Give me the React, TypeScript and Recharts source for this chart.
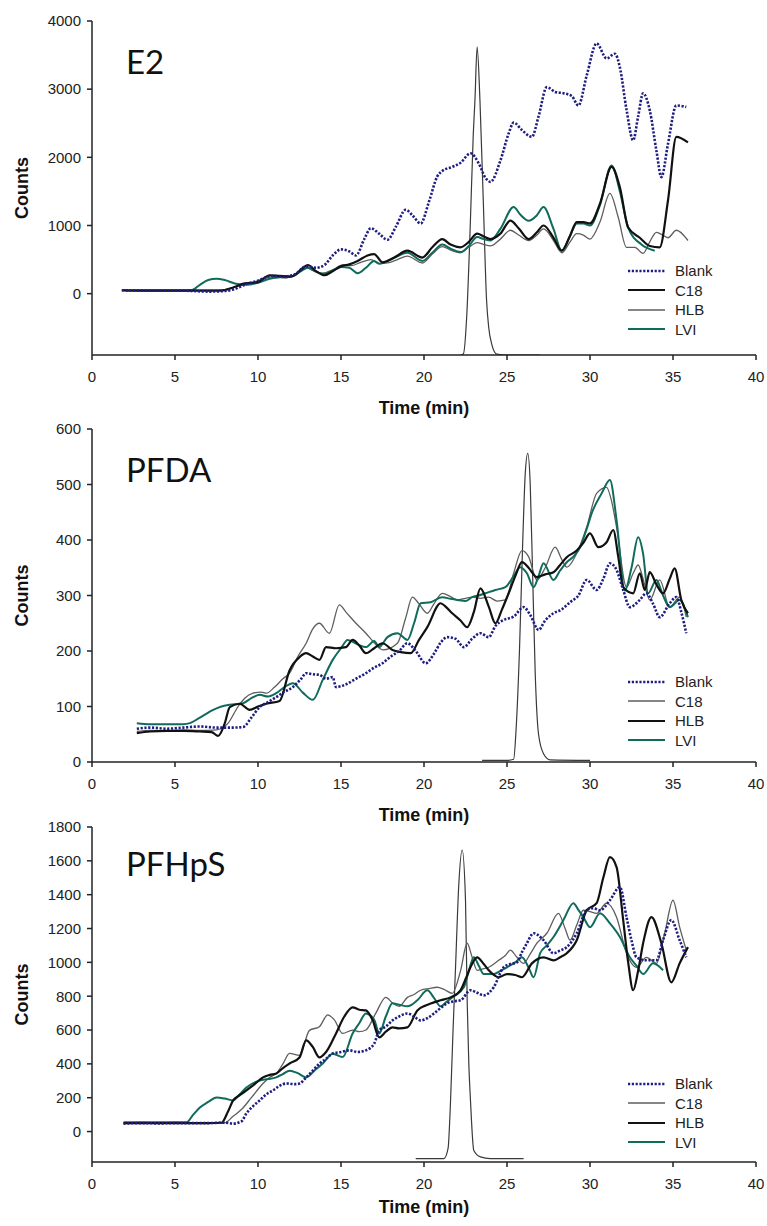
import { LineChart, Line, XAxis, YAxis, Legend } from 'recharts';

type Pt = [number, number];

const FONT = '"Liberation Sans", Arial, sans-serif';

const timeTicks = [0, 5, 10, 15, 20, 25, 30, 35, 40];
const e2Ticks = [0, 1000, 2000, 3000, 4000];
const pfdaTicks = [0, 100, 200, 300, 400, 500, 600];
const pfhpsTicks = [0, 200, 400, 600, 800, 1000, 1200, 1400, 1600, 1800];

// ---- E2 ----
const e2Blank: Pt[] = [
  [1.8, 50], [3, 45], [4, 45], [5, 45], [6, 40], [7, 30], [7.8, 35], [8.5, 60], [9.3, 140], [10, 190],
  [10.8, 260], [11.5, 250], [12.2, 280], [12.9, 400], [13.5, 380], [14, 420], [14.5, 560], [15, 650],
  [15.5, 620], [15.9, 560], [16.4, 800], [16.8, 960], [17.3, 880], [17.8, 790], [18.3, 980], [18.9, 1230],
  [19.3, 1150], [19.8, 1030], [20.3, 1350], [20.8, 1720], [21.1, 1800], [21.7, 1860], [22.2, 1920],
  [22.8, 2060], [23.3, 1910], [23.7, 1700], [24.0, 1640], [24.6, 1950], [25.1, 2350], [25.4, 2510],
  [25.9, 2400], [26.5, 2300], [26.9, 2600], [27.4, 3030], [27.9, 2960], [28.4, 2940], [28.9, 2900],
  [29.3, 2760], [29.8, 3200], [30.4, 3670], [31.0, 3450], [31.5, 3520], [31.8, 3320], [32.2, 2700],
  [32.6, 2250], [32.9, 2600], [33.2, 2940], [33.6, 2690], [34.0, 2100], [34.3, 1710], [34.7, 2200],
  [35.2, 2760], [35.8, 2740],
];
const e2C18: Pt[] = [
  [1.8, 50], [3, 45], [5, 45], [7, 45], [7.8, 45], [8.5, 90], [9.2, 150], [10, 170], [10.7, 270],
  [11.3, 260], [12, 250], [12.6, 350], [13, 420], [13.5, 330], [14, 270], [14.5, 330], [15, 400],
  [15.5, 430], [16, 480], [16.6, 560], [17, 580], [17.5, 460], [18.2, 530], [19, 630], [19.9, 530],
  [20.5, 680], [21.1, 800], [21.6, 720], [22.2, 680], [22.7, 760], [23.2, 880], [23.6, 840], [24, 800],
  [24.6, 880], [25.2, 1070], [25.7, 960], [26.3, 800], [26.8, 900], [27.2, 1000], [27.8, 820],
  [28.3, 630], [28.8, 850], [29.2, 1050], [29.6, 1050], [30, 1030], [30.6, 1320], [31.3, 1860],
  [31.8, 1560], [32.3, 970], [33, 820], [33.6, 700], [34.2, 680], [34.7, 1370], [35.2, 2300], [35.9, 2220],
];
const e2HLB: Pt[] = [
  [1.8, 50], [3, 50], [5, 50], [7, 50], [8, 60], [8.8, 110], [9.6, 150], [10.3, 220], [11, 250],
  [11.7, 230], [12.3, 300], [12.8, 400], [13.3, 340], [13.9, 300], [14.5, 350], [15.1, 420], [15.6, 410],
  [16.2, 460], [16.8, 500], [17.3, 440], [17.8, 450], [18.4, 500], [19, 550], [19.9, 450], [20.5, 580],
  [21.1, 690], [21.6, 640], [22.2, 600], [22.7, 680], [23.2, 750], [23.6, 720], [24, 700], [24.6, 800],
  [25.2, 930], [25.7, 860], [26.3, 780], [26.8, 860], [27.2, 950], [27.8, 780], [28.3, 600], [28.8, 760],
  [29.2, 880], [29.6, 860], [30, 800], [30.6, 1050], [31.2, 1470], [31.7, 1120], [32.2, 680], [32.7, 680],
  [33.2, 590], [33.6, 760], [34, 900], [34.3, 870], [34.7, 820], [35.2, 930], [35.9, 780],
];
const e2LVI: Pt[] = [
  [1.8, 50], [3, 45], [5, 45], [6, 50], [6.5, 130], [7, 200], [7.5, 220], [8, 200], [8.6, 150],
  [9.3, 130], [10, 160], [10.7, 220], [11.3, 240], [12, 250], [12.6, 330], [13, 380], [13.5, 320],
  [14, 290], [14.5, 340], [15, 390], [15.5, 380], [16, 300], [16.5, 380], [17, 480], [17.3, 440],
  [18, 500], [19, 600], [19.9, 480], [20.5, 600], [21.1, 720], [21.6, 660], [22.2, 610], [22.7, 700],
  [23.2, 830], [23.6, 800], [24, 780], [24.6, 950], [25.4, 1270], [25.8, 1160], [26.3, 1070],
  [26.8, 1150], [27.2, 1270], [27.8, 950], [28.3, 630], [28.8, 850], [29.2, 1030], [29.6, 1030],
  [30, 1000], [30.6, 1300], [31.3, 1880], [31.8, 1500], [32.3, 970], [33.1, 720], [33.9, 630],
];
const e2Std: Pt[] = [
  [22.2, -900], [22.37, -885], [22.57, -350], [22.77, 880], [22.97, 2350], [23.07, 2840], [23.2, 3620],
  [23.37, 2840], [23.57, 1370], [23.77, -100], [23.9, -500], [24.08, -740], [24.38, -885], [25, -900],
  [27, -900],
];

// ---- PFDA ----
const pfdaBlank: Pt[] = [
  [2.7, 60], [3.5, 62], [4.5, 60], [5.5, 62], [6.5, 64], [7.5, 62], [8.5, 62], [9.1, 63], [9.6, 80],
  [10.1, 99], [10.6, 108], [11.1, 117], [11.5, 125], [12.1, 135], [12.6, 150], [12.9, 160], [13.3, 158],
  [13.7, 157], [14.1, 150], [14.5, 153], [14.7, 135], [15.3, 140], [15.9, 150], [16.5, 160], [17, 170],
  [17.5, 178], [18, 190], [18.5, 200], [19, 214], [19.5, 200], [20.1, 178], [20.6, 195], [21, 215],
  [21.4, 225], [21.9, 222], [22.4, 207], [22.9, 222], [23.4, 232], [23.9, 225], [24.3, 245], [24.8, 256],
  [25.4, 262], [26, 279], [26.4, 265], [26.9, 238], [27.3, 255], [27.8, 268], [28.3, 275], [28.8, 288],
  [29.3, 300], [29.8, 328], [30.4, 310], [30.8, 330], [31.2, 358], [31.6, 346], [32, 310], [32.4, 279],
  [33, 292], [33.4, 304], [33.8, 285], [34.2, 261], [34.8, 286], [35.2, 297], [35.5, 270], [35.8, 232],
];
const pfdaC18: Pt[] = [
  [2.7, 55], [3.5, 57], [4.5, 56], [5.5, 58], [6.5, 57], [7.5, 58], [8.2, 70], [8.8, 100], [9.2, 115],
  [9.7, 124], [10.2, 126], [10.5, 124], [11, 135], [11.5, 150], [11.9, 160], [12.4, 190], [12.9, 214],
  [13.3, 240], [13.7, 250], [14.3, 232], [14.9, 283], [15.3, 270], [15.9, 250], [16.5, 232], [17, 215],
  [17.5, 202], [18.4, 214], [18.9, 260], [19.3, 297], [19.7, 285], [20.2, 268], [20.6, 285], [21.1, 304],
  [21.6, 298], [22, 292], [22.5, 295], [22.9, 297], [23.4, 295], [23.9, 297], [24.4, 290], [24.9, 292],
  [25.4, 340], [25.9, 381], [26.3, 370], [26.8, 328], [27.3, 350], [27.9, 387], [28.3, 365], [28.6, 351],
  [29.2, 376], [29.8, 423], [30.4, 484], [31, 495], [31.3, 470], [31.6, 423], [32.2, 315], [32.6, 340],
  [32.9, 355], [33.2, 330], [33.6, 292], [34.2, 328], [34.8, 279], [35.4, 297], [35.8, 261],
];
const pfdaHLB: Pt[] = [
  [2.7, 52], [3.5, 55], [4.5, 56], [5.5, 56], [6.5, 55], [7.2, 54], [7.6, 47], [8, 70], [8.3, 99],
  [8.9, 105], [9.5, 94], [10, 100], [10.5, 105], [11.3, 110], [11.9, 165], [12.5, 189], [12.9, 196],
  [13.3, 190], [13.7, 184], [14.1, 207], [14.7, 205], [15.3, 207], [15.7, 220], [16.1, 210], [16.5, 196],
  [17, 205], [17.5, 214], [18.1, 202], [18.6, 198], [19.2, 196], [19.7, 220], [20.2, 243], [21, 286],
  [21.3, 280], [21.7, 268], [22.2, 255], [22.6, 243], [23, 270], [23.4, 313], [23.9, 280], [24.3, 250],
  [24.7, 275], [25.1, 304], [25.5, 335], [25.9, 360], [26.3, 350], [26.8, 333], [27.3, 338], [27.8, 342],
  [28.2, 355], [28.6, 369], [29.2, 381], [29.6, 395], [30, 412], [30.5, 387], [31, 396], [31.4, 418],
  [31.7, 370], [32, 315], [32.6, 304], [33, 340], [33.3, 310], [33.6, 342], [34, 320], [34.4, 304],
  [34.8, 330], [35.1, 349], [35.5, 292], [35.9, 268],
];
const pfdaLVI: Pt[] = [
  [2.7, 70], [3.5, 68], [4.5, 68], [5.5, 68], [5.9, 70], [6.5, 80], [7.3, 94], [7.8, 100], [8.3, 103],
  [9.1, 106], [9.6, 115], [10.1, 121], [10.6, 118], [11.1, 124], [11.6, 135], [12.1, 142], [12.7, 125],
  [13.3, 112], [13.9, 148], [14.5, 184], [15, 205], [15.4, 220], [16, 212], [16.5, 207], [17, 218],
  [17.3, 207], [17.8, 225], [18.4, 232], [19, 220], [19.4, 250], [19.8, 286], [20.4, 288], [21.1, 297],
  [21.6, 294], [22, 292], [22.5, 290], [22.9, 297], [23.3, 300], [23.7, 304], [24.3, 310], [24.9, 315],
  [25.4, 335], [25.8, 351], [26.2, 340], [26.6, 315], [26.9, 335], [27.2, 358], [27.8, 328], [28.2, 345],
  [28.6, 360], [29, 370], [29.4, 387], [29.8, 420], [30.1, 448], [30.7, 484], [31.2, 508], [31.6, 436],
  [32.1, 309], [32.5, 350], [32.9, 405], [33.2, 375], [33.5, 304], [34, 328], [34.4, 300], [34.8, 279],
  [35.4, 292], [35.9, 261],
];
const pfdaStd: Pt[] = [
  [23.5, 3], [25, 3], [25.4, 5], [25.55, 60], [25.75, 200], [25.95, 400], [26.1, 520], [26.25, 556],
  [26.4, 500], [26.55, 330], [26.7, 160], [26.9, 50], [27.2, 15], [27.6, 4], [30, 3],
];

// ---- PFHpS ----
const pfhpsBlank: Pt[] = [
  [1.9, 47], [3, 50], [4, 48], [5, 50], [6, 50], [7, 50], [8, 53], [8.5, 47], [9, 60], [9.3, 107],
  [9.7, 150], [10.1, 184], [10.5, 220], [10.9, 243], [11.3, 270], [11.7, 284], [12.2, 280], [12.5, 284],
  [12.9, 320], [13.3, 360], [13.7, 402], [14.1, 430], [14.5, 462], [15, 470], [15.5, 480], [16, 470],
  [16.5, 480], [17, 520], [17.3, 598], [17.7, 620], [18.1, 657], [18.5, 680], [19, 698], [19.4, 680],
  [19.8, 657], [20.2, 670], [20.6, 698], [21, 730], [21.4, 758], [21.8, 770], [22.2, 776], [22.8, 835],
  [23.2, 820], [23.6, 805], [24.2, 853], [24.8, 971], [25.2, 990], [25.6, 1000], [25.9, 1060],
  [26.2, 1113], [26.6, 1172], [27.2, 1131], [27.8, 1054], [28.2, 1070], [28.6, 1090], [29.2, 1172],
  [29.8, 1308], [30.2, 1320], [30.6, 1308], [31.2, 1367], [31.8, 1445], [32.2, 1267], [32.5, 1130],
  [32.8, 1030], [33.4, 1012], [34, 1012], [34.4, 1131], [34.9, 1250], [35.4, 1131], [35.8, 1030],
];
const pfhpsC18: Pt[] = [
  [1.9, 50], [3, 50], [4, 50], [5, 50], [6, 50], [7, 50], [8, 52], [8.5, 90], [9, 130], [9.6, 200],
  [10.3, 284], [10.7, 320], [11.1, 343], [11.5, 400], [11.9, 462], [12.5, 450], [13.1, 598], [13.7, 620],
  [14.2, 690], [14.6, 660], [15.1, 580], [15.7, 600], [16.1, 590], [16.5, 600], [17.1, 700], [17.7, 793],
  [18.1, 760], [18.5, 740], [19, 793], [19.4, 810], [19.8, 835], [20.3, 845], [20.8, 853], [21.2, 840],
  [21.7, 817], [22.2, 950], [22.6, 1113], [22.9, 1030], [23.2, 953], [23.5, 960], [23.9, 971],
  [24.5, 1012], [24.9, 1040], [25.2, 1072], [25.6, 1030], [26, 994], [26.4, 1050], [26.8, 1113],
  [27.4, 1172], [28.1, 1290], [28.5, 1200], [28.8, 1131], [29.2, 1220], [29.6, 1308], [30, 1300],
  [30.4, 1290], [31, 1350], [31.6, 1267], [32.2, 1054], [32.8, 971], [33.4, 1030], [34, 994],
  [34.5, 1172], [35, 1367], [35.4, 1208], [35.8, 1072],
];
const pfhpsHLB: Pt[] = [
  [1.9, 50], [3, 50], [4, 50], [5, 50], [6, 50], [7, 50], [7.8, 52], [8.2, 120], [8.5, 184], [8.9, 215],
  [9.3, 243], [9.8, 280], [10.3, 320], [10.7, 335], [11.1, 343], [11.5, 375], [11.9, 402], [12.5, 438],
  [12.9, 539], [13.3, 500], [13.7, 438], [14.1, 470], [14.7, 580], [15.2, 680], [15.7, 734], [16.1, 720],
  [16.5, 716], [16.9, 660], [17.3, 557], [17.7, 590], [18.1, 616], [18.5, 610], [19, 616], [19.6, 716],
  [20.1, 745], [20.4, 757], [21, 776], [21.6, 793], [22.2, 835], [22.5, 900], [22.8, 971], [23.2, 1030],
  [23.6, 990], [23.9, 953], [24.5, 912], [25, 931], [25.5, 925], [25.9, 912], [26.5, 994], [27.2, 1030],
  [27.8, 1012], [28.2, 1030], [28.6, 1054], [29.2, 1131], [29.8, 1308], [30.4, 1350], [30.8, 1500],
  [31.2, 1622], [31.6, 1563], [32, 1250], [32.3, 1000], [32.6, 835], [32.9, 950], [33.2, 1113],
  [33.7, 1267], [34.3, 1113], [34.9, 882], [35.4, 994], [35.9, 1090],
];
const pfhpsLVI: Pt[] = [
  [1.9, 55], [3, 55], [4, 55], [5, 55], [5.7, 55], [6.1, 100], [6.5, 142], [7, 175], [7.5, 201], [8, 195],
  [8.5, 184], [8.9, 220], [9.3, 260], [10.1, 302], [10.6, 310], [11.1, 320], [11.5, 340], [11.9, 360],
  [12.4, 345], [12.9, 320], [13.4, 360], [13.9, 402], [14.5, 460], [15.1, 440], [15.7, 580], [16.1, 640],
  [16.5, 698], [17, 660], [17.3, 580], [17.7, 680], [18.1, 758], [18.5, 750], [19, 740], [19.6, 776],
  [20.2, 835], [20.6, 790], [21, 740], [21.4, 770], [21.7, 793], [22.4, 853], [22.7, 950], [23, 1030],
  [23.3, 980], [23.6, 931], [24.2, 931], [24.6, 950], [25, 971], [25.5, 1000], [25.9, 1030], [26.3, 970],
  [26.6, 912], [27, 1054], [27.4, 1100], [27.8, 1150], [28.4, 1250], [29, 1350], [29.3, 1310],
  [29.6, 1267], [30, 1208], [30.6, 1290], [31.2, 1230], [31.8, 1150], [32.4, 1030], [32.8, 980],
  [33.2, 931], [33.8, 994], [34.4, 953],
];
const pfhpsStd: Pt[] = [
  [19.5, -160], [21.2, -160], [21.45, -100], [21.6, 184], [21.75, 600], [21.9, 971], [22.1, 1468],
  [22.3, 1664], [22.5, 1368], [22.6, 776], [22.7, 400], [22.8, 184], [23, -112], [23.4, -150], [24, -160],
  [26, -160],
];

const toRows = (pts: Pt[]) => pts.map(([t, v]) => ({ t, v }));

const lineStyles = {
  blank: { stroke: '#1e1e80', strokeWidth: 2.6, strokeDasharray: '2.2 1.6' },
  thick: { stroke: '#111111', strokeWidth: 2.2 },
  thin: { stroke: '#5e5e5e', strokeWidth: 1.3 },
  teal: { stroke: '#0f6b5c', strokeWidth: 2 },
  std: { stroke: '#3a3a3a', strokeWidth: 1.2 },
};

type Series = { name: string; data: Pt[]; style: keyof typeof lineStyles };

type PanelProps = {
  title: string;
  top: number;
  marginTop: number;
  plotHeight: number;
  xAxisHeight: number;
  yDomain: [number, number];
  yTicks: number[];
  series: Series[];
  std: Pt[];
  legendTop: number;
  titleDy: number;
  xLabelDy: number;
};

function Panel({
  title, top, marginTop, plotHeight, xAxisHeight, yDomain, yTicks, series, std, legendTop, titleDy, xLabelDy,
}: PanelProps) {
  const height = marginTop + plotHeight + xAxisHeight;
  // draw order: thin first, then teal, thick, dotted blank on top
  const order: (keyof typeof lineStyles)[] = ['thin', 'teal', 'thick', 'blank'];
  const drawn = [...series].sort((a, b) => order.indexOf(a.style) - order.indexOf(b.style));

  return (
    <div style={{ position: 'absolute', left: 0, top }}>
      <LineChart width={767} height={height} margin={{ top: marginTop, right: 11, bottom: 0, left: 0 }}>
        <XAxis
          type="number"
          dataKey="t"
          domain={[0, 40]}
          ticks={timeTicks}
          interval={0}
          allowDataOverflow
          height={xAxisHeight}
          tickSize={5}
          tickMargin={11}
          tick={{ fontSize: 15, fill: '#222', fontFamily: FONT }}
          axisLine={{ stroke: '#222', strokeWidth: 1.5 }}
          tickLine={{ stroke: '#222', strokeWidth: 1.5 }}
          label={(p: any) => (
            <text
              x={p.viewBox.x + p.viewBox.width / 2}
              y={p.viewBox.y + xLabelDy}
              textAnchor="middle"
              dominantBaseline="central"
              fontFamily={FONT}
              fontWeight="bold"
              fontSize={18}
              fill="#111"
            >
              Time (min)
            </text>
          )}
        />
        <YAxis
          type="number"
          domain={yDomain}
          ticks={yTicks}
          interval={0}
          allowDataOverflow
          width={92}
          tickSize={5}
          tickMargin={6}
          tick={{ fontSize: 15, fill: '#222', fontFamily: FONT }}
          axisLine={{ stroke: '#222', strokeWidth: 1.5 }}
          tickLine={{ stroke: '#222', strokeWidth: 1.5 }}
          label={(p: any) => (
            <g>
              <text
                x={22}
                y={p.viewBox.y + p.viewBox.height / 2}
                transform={`rotate(-90, 22, ${p.viewBox.y + p.viewBox.height / 2})`}
                textAnchor="middle"
                dominantBaseline="central"
                fontFamily={FONT}
                fontWeight="bold"
                fontSize={18}
                fill="#111"
              >
                Counts
              </text>
              <text x={126} y={p.viewBox.y + titleDy} fontFamily="Lato, 'Open Sans', sans-serif" fontSize={33} fill="#111">
                {title}
              </text>
            </g>
          )}
        />
        <Line
          data={toRows(std)}
          dataKey="v"
          type="monotone"
          dot={false}
          activeDot={false}
          legendType="none"
          isAnimationActive={false}
          {...lineStyles.std}
        />
        {drawn.map((s) => (
          <Line
            key={s.name}
            name={s.name}
            data={toRows(s.data)}
            dataKey="v"
            type="monotone"
            dot={false}
            activeDot={false}
            isAnimationActive={false}
            {...lineStyles[s.style]}
          />
        ))}
        <Legend
          layout="vertical"
          align="center"
          verticalAlign="middle"
          wrapperStyle={{ left: 628, top: legendTop, width: 130 }}
          content={() => (
            <div style={{ fontFamily: FONT, fontSize: 15, color: '#222' }}>
              {series.map((s) => {
                const st = lineStyles[s.style];
                return (
                  <div key={s.name} style={{ display: 'flex', alignItems: 'center', height: 19.5 }}>
                    <svg width={37} height={6} style={{ display: 'block' }}>
                      <line
                        x1={0}
                        y1={3}
                        x2={37}
                        y2={3}
                        stroke={st.stroke}
                        strokeWidth={st.strokeWidth}
                        strokeDasharray={(st as any).strokeDasharray}
                      />
                    </svg>
                    <span style={{ marginLeft: 10, lineHeight: '19.5px' }}>{s.name}</span>
                  </div>
                );
              })}
            </div>
          )}
        />
      </LineChart>
    </div>
  );
}

export default function App() {
  return (
    <div style={{ position: 'absolute', left: 0, top: 0, width: 767, height: 1226, background: '#fff' }}>
      <Panel
        title="E2"
        top={0}
        marginTop={21}
        plotHeight={334}
        xAxisHeight={65}
        yDomain={[-900, 4000]}
        yTicks={e2Ticks}
        series={[
          { name: 'Blank', data: e2Blank, style: 'blank' },
          { name: 'C18', data: e2C18, style: 'thick' },
          { name: 'HLB', data: e2HLB, style: 'thin' },
          { name: 'LVI', data: e2LVI, style: 'teal' },
        ]}
        std={e2Std}
        legendTop={261}
        titleDy={53}
        xLabelDy={53}
      />
      <Panel
        title="PFDA"
        top={410}
        marginTop={19}
        plotHeight={333}
        xAxisHeight={65}
        yDomain={[0, 600]}
        yTicks={pfdaTicks}
        series={[
          { name: 'Blank', data: pfdaBlank, style: 'blank' },
          { name: 'C18', data: pfdaC18, style: 'thin' },
          { name: 'HLB', data: pfdaHLB, style: 'thick' },
          { name: 'LVI', data: pfdaLVI, style: 'teal' },
        ]}
        std={pfdaStd}
        legendTop={262}
        titleDy={53}
        xLabelDy={53}
      />
      <Panel
        title="PFHpS"
        top={810}
        marginTop={17}
        plotHeight={335}
        xAxisHeight={64}
        yDomain={[-180, 1800]}
        yTicks={pfhpsTicks}
        series={[
          { name: 'Blank', data: pfhpsBlank, style: 'blank' },
          { name: 'C18', data: pfhpsC18, style: 'thin' },
          { name: 'HLB', data: pfhpsHLB, style: 'thick' },
          { name: 'LVI', data: pfhpsLVI, style: 'teal' },
        ]}
        std={pfhpsStd}
        legendTop={264}
        titleDy={49}
        xLabelDy={45}
      />
    </div>
  );
}
